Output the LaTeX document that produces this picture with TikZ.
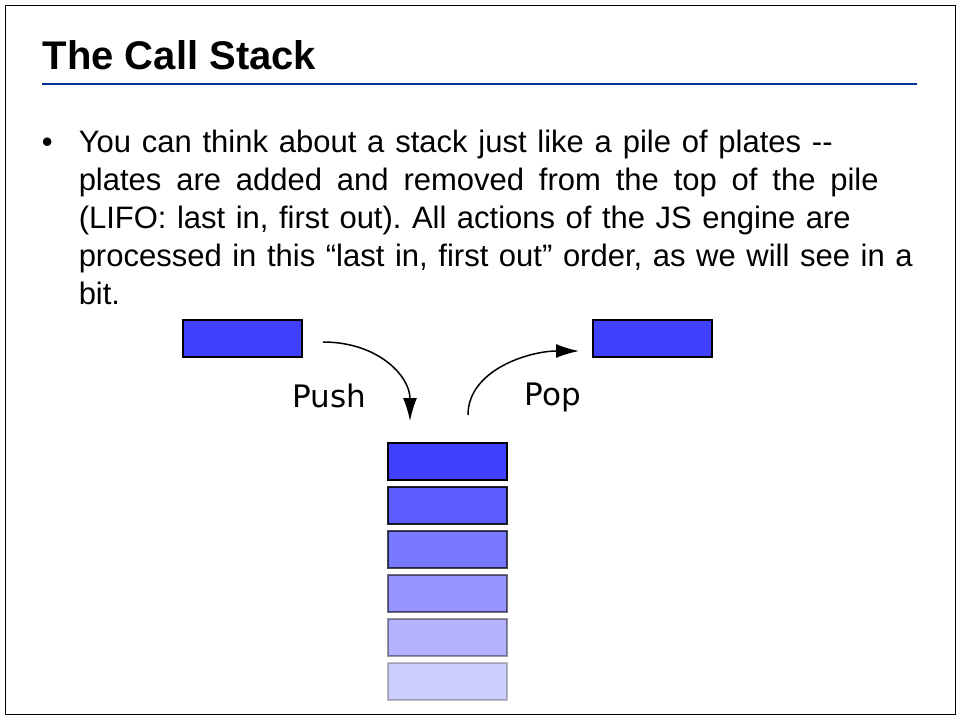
\documentclass[tikz,border=0pt]{standalone}
\usepackage{fontspec}
\setmainfont{Liberation Sans}
\newfontfamily\dejavu{DejaVu Sans}
\usepackage{tikz}
\usetikzlibrary{arrows.meta,positioning}
\definecolor{plateblue}{RGB}{64,64,255}
\definecolor{ruleblue}{RGB}{0,51,153}
% one line of the bullet, spread to the width it has on the slide
\newcommand{\spreadline}[2]{\leavevmode{\frenchspacing\spaceskip=.278em plus 1fil\hbox to #1pt{#2}}}

\begin{document}
\begin{tikzpicture}[x=1pt,y=-1pt,>={Latex[length=23pt,width=14pt]},line width=1.5pt,
                    node distance=7pt]
  \tikzstyle{plate}=[rectangle,draw=black,fill=plateblue,line width=1.2pt,outer sep=0pt,
                     minimum width=119pt,minimum height=37pt,inner sep=0pt]
  \tikzstyle{oplabel}=[anchor=base west,inner sep=0pt,font=\dejavu\fontsize{31}{36}\selectfont]
  \tikzstyle{bodytext}=[anchor=base west,inner sep=0pt,font=\fontsize{31}{38}\selectfont]

  \useasboundingbox (0,0) rectangle (960,720);
  \draw[line width=1pt] (5,5) rectangle (955,714);

  % heading
  \node[anchor=base west,inner sep=0pt,font=\bfseries\fontsize{40}{48}\selectfont] (title) at (42,69) {The Call Stack};
  \draw[ruleblue,line width=2pt] (42,84) -- (917,84);

  % bullet
  \node[bodytext] (dot) at (41,152) {•};
  \node[bodytext,text width=860pt,align=left] (body) at (78,152)
    {\spreadline{754}{You can think about a stack just like a pile of plates -{}-}\\
     \spreadline{800}{plates are added and removed from the top of the pile}\\
     \spreadline{772}{(LIFO: last in, first out). All actions of the JS engine are}\\
     \spreadline{834}{processed in this “last in, first out” order, as we will see in a}\\
     bit.};

  % plates
  \node[plate] (inplate)  at (242.5,338.5) {};
  \node[plate] (outplate) at (652.5,338.5) {};
  \node[plate] (plate1) at (447.5,461.5) {};
  \node[plate,opacity=.85,below=of plate1] (plate2) {};
  \node[plate,opacity=.7,below=of plate2] (plate3) {};
  \node[plate,opacity=.55,below=of plate3] (plate4) {};
  \node[plate,opacity=.4,below=of plate4] (plate5) {};
  \node[plate,opacity=.25,below=of plate5] (plate6) {};

  % push and pop
  \coordinate (pushfrom) at (323,342);
  \coordinate (pushto) at (410,421);
  \coordinate (popfrom) at (468,415);
  \coordinate (popto) at (579,351);
  \draw[->] (pushfrom) .. controls +(55,0) and +(0,-45) .. (pushto);
  \draw[->] (popfrom) .. controls +(0,-45) and +(-50,0) .. (popto);
  \node[oplabel] (push) at (292,407) {Push};
  \node[oplabel] (pop) at (524,405) {Pop};
\end{tikzpicture}
\end{document}
